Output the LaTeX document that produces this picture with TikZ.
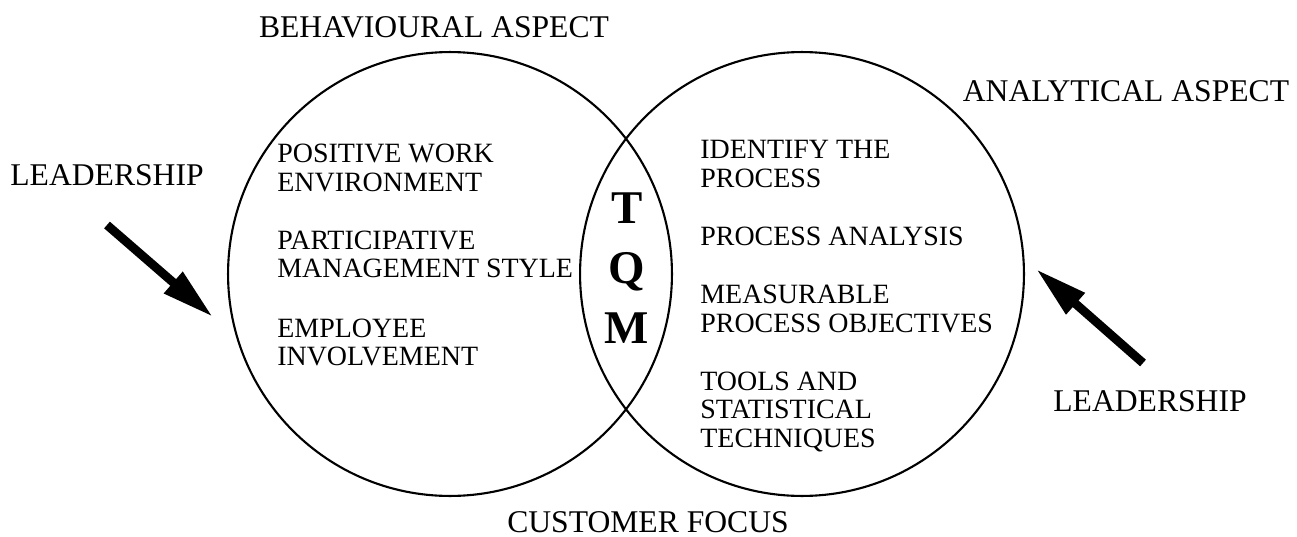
\documentclass[tikz,border=0pt]{standalone}
\usepackage{fontspec}
\setmainfont{Liberation Serif}
\usetikzlibrary{arrows.meta}

\tikzset{
  ring/.style={line width=1.2pt},
  headtxt/.style={font=\fontsize{18}{20}\selectfont, inner sep=0pt, anchor=base},
  bodytxt/.style={font=\fontsize{15.9}{17}\selectfont, inner sep=0pt, anchor=base west},
  tqmtxt/.style={font=\fontsize{26.7}{30}\selectfont\bfseries, inner sep=0pt, anchor=base},
  pusharrow/.style={line width=5pt, -{Triangle[length=30pt,width=15pt]}}
}

\begin{document}
\begin{tikzpicture}[x=0.02cm,y=0.02cm]
\useasboundingbox (0,0) rectangle (1297,-537);

% the two aspects
\draw[ring] (450,-274) circle (4.44cm);
\draw[ring] (802,-274) circle (4.44cm);

\node[headtxt] (beh)   at (434,-38)  {BEHAVIOURAL ASPECT};
\node[headtxt] (ana)   at (1126,-102) {ANALYTICAL ASPECT};
\node[headtxt] (lead1) at (107,-185) {LEADERSHIP};
\node[headtxt] (lead2) at (1150,-411) {LEADERSHIP};
\node[headtxt] (cust)  at (648,-532) {CUSTOMER FOCUS};

\foreach \n/\y/\t in {1/162/POSITIVE WORK, 2/191/ENVIRONMENT,
    3/249/PARTICIPATIVE, 4/277/MANAGEMENT STYLE,
    5/337/EMPLOYEE, 6/365/INVOLVEMENT} {
    \node[bodytxt] (beh\n) at (277,-\y) {\t};
}
\foreach \n/\y/\t in {1/158/IDENTIFY THE, 2/187/PROCESS,
    3/245/PROCESS ANALYSIS, 4/303/MEASURABLE, 5/332/PROCESS OBJECTIVES,
    6/390/TOOLS AND, 7/418/STATISTICAL, 8/447/TECHNIQUES} {
    \node[bodytxt] (ana\n) at (700,-\y) {\t};
}

% overlap
\foreach \n/\y/\t in {1/223/T, 2/283/Q, 3/343/M} {
    \node[tqmtxt] (tqm\n) at (627,-\y) {\t};
}

% leadership arrows
\coordinate (lt1) at (107,-225);
\coordinate (lh1) at (213,-317);
\coordinate (lt2) at (1143,-363);
\coordinate (lh2) at (1036,-269);
\draw[pusharrow] (lt1) -- (lh1);
\draw[pusharrow] (lt2) -- (lh2);
\end{tikzpicture}
\end{document}
